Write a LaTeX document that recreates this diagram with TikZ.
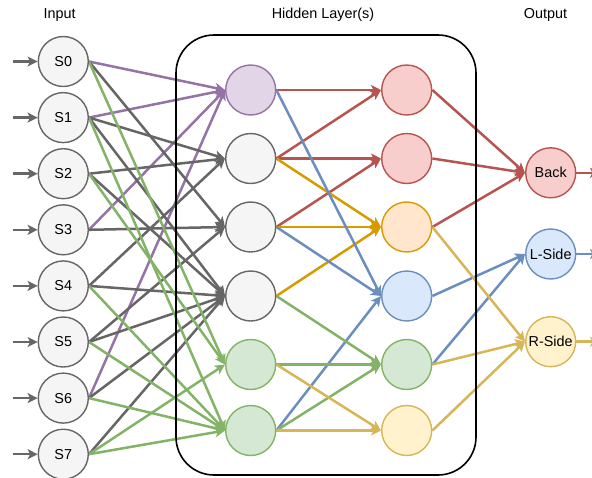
\documentclass[tikz,border=0pt]{standalone}
\usepackage{fontspec}
\setmainfont{Liberation Sans}
\usetikzlibrary{arrows.meta}
\pgfdeclarelayer{background}
\pgfsetlayers{background,main}

% stroke / fill pairs
\definecolor{grayD}{HTML}{666666}\definecolor{grayF}{HTML}{F5F5F5}
\definecolor{purpD}{HTML}{9673A6}\definecolor{purpF}{HTML}{E1D5E7}
\definecolor{redD}{HTML}{B85450}\definecolor{redF}{HTML}{F8CECC}
\definecolor{orgD}{HTML}{D79B00}\definecolor{orgF}{HTML}{FFE6CC}
\definecolor{bluD}{HTML}{6C8EBF}\definecolor{bluF}{HTML}{DAE8FC}
\definecolor{grnD}{HTML}{82B366}\definecolor{grnF}{HTML}{D5E8D4}
\definecolor{yelD}{HTML}{D6B656}\definecolor{yelF}{HTML}{FFF2CC}

\begin{document}
\begin{tikzpicture}[x=1pt,y=-1pt,
  font=\fontsize{14.4}{17}\selectfont,
  neuron/.style={circle, minimum size=50pt, inner sep=0pt, line width=1.4pt},
  ngray/.style={neuron, draw=grayD, fill=grayF},
  npurp/.style={neuron, draw=purpD, fill=purpF},
  nred/.style={neuron, draw=redD, fill=redF},
  norg/.style={neuron, draw=orgD, fill=orgF},
  nblu/.style={neuron, draw=bluD, fill=bluF},
  ngrn/.style={neuron, draw=grnD, fill=grnF},
  nyel/.style={neuron, draw=yelD, fill=yelF},
  link/.style={line width=2.5pt, -{Stealth[length=10pt,width=10pt,inset=2.5pt]}},
  title/.style={anchor=center}
]
\useasboundingbox (0,0) rectangle (592,477);

% column titles
\node[title] (tin)  at (59.7,15) {Input};
\node[title] (thid) at (323,15) {Hidden Layer(s)};
\node[title] (tout) at (545.5,15) {Output};

% input layer
\foreach \i in {0,...,7}{
  \node[ngray] (s\i) at (63.3,{61.5+56.1*\i}) {S\i};
  \coordinate (f\i) at (13,{61.5+56.1*\i});
}

% first hidden layer
\node[npurp] (h1) at (250.7,90) {};
\node[ngray] (h2) at (250.7,158.5) {};
\node[ngray] (h3) at (250.7,227) {};
\node[ngray] (h4) at (250.7,296) {};
\node[ngrn]  (h5) at (250.7,364.5) {};
\node[ngrn]  (h6) at (250.7,430.5) {};

% second hidden layer
\node[nred] (k1) at (406.7,90) {};
\node[nred] (k2) at (406.7,158.5) {};
\node[norg] (k3) at (406.7,227) {};
\node[nblu] (k4) at (406.7,296) {};
\node[ngrn] (k5) at (406.7,364.5) {};
\node[nyel] (k6) at (406.7,430.5) {};

% output layer
\node[nred] (back)  at (550.7,172.8) {Back};
\node[nblu] (lside) at (550.7,254) {L-Side};
\node[nyel] (rside) at (550.7,341.7) {R-Side};
\coordinate (obk) at (600,172.8);
\coordinate (olt) at (600,254);
\coordinate (ort) at (600,341.7);

\begin{pgfonlayer}{background}
  % feeds into the inputs
  \foreach \i in {0,...,7} \draw[link, grayD] (f\i) -- (s\i.west);

  % input -> first hidden layer
  \foreach \a/\b in {s0/h1,s1/h1,s3/h1,s6/h1}
    \draw[link, purpD] (\a.east) -- (\b.west);
  \foreach \a/\b in {s0/h3,s1/h2,s1/h4,s2/h2,s2/h4,s3/h3,s4/h2,s4/h4,s5/h3,s5/h4,s6/h4,s7/h4}
    \draw[link, grayD] (\a.east) -- (\b.west);
  \foreach \a/\b in {s0/h5,s1/h6,s2/h5,s4/h6,s5/h6,s6/h6,s7/h5,s7/h6}
    \draw[link, grnD] (\a.east) -- (\b.west);

  % first -> second hidden layer
  \foreach \a/\b in {h1/k1,h2/k1,h2/k2,h3/k2}
    \draw[link, redD] (\a.east) -- (\b.west);
  \foreach \a/\b in {h2/k3,h3/k3,h4/k3}
    \draw[link, orgD] (\a.east) -- (\b.west);
  \foreach \a/\b in {h1/k4,h3/k4,h6/k4}
    \draw[link, bluD] (\a.east) -- (\b.west);
  \foreach \a/\b in {h4/k5,h5/k5,h6/k5}
    \draw[link, grnD] (\a.east) -- (\b.west);
  \foreach \a/\b in {h5/k6,h6/k6}
    \draw[link, yelD] (\a.east) -- (\b.west);

  % second hidden layer -> outputs
  \foreach \a in {k1,k2,k3} \draw[link, redD] (\a.east) -- (back.west);
  \foreach \a in {k4,k5} \draw[link, bluD] (\a.east) -- (lside.west);
  \foreach \a in {k3,k5,k6} \draw[link, yelD] (\a.east) -- (rside.west);

  % outputs leaving the net
  \draw[link, redD] (back.east) -- (obk);
  \draw[link, bluD] (lside.east) -- (olt);
  \draw[link, yelD] (rside.east) -- (ort);

  % frame round the hidden layers
  \draw[line width=1.6pt, rounded corners=38pt] (176,35) rectangle (476,475);
\end{pgfonlayer}
\end{tikzpicture}
\end{document}
